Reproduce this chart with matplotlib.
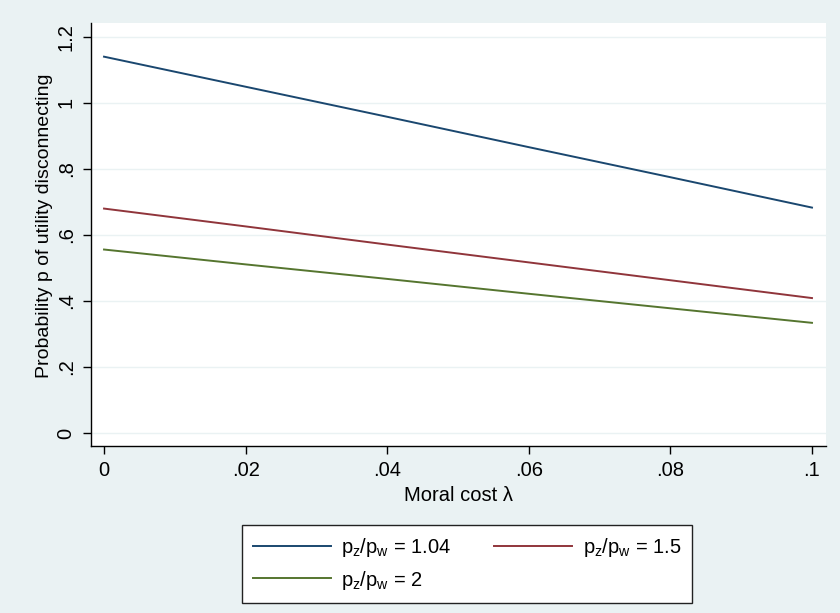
import matplotlib
matplotlib.use("Agg")
import matplotlib.pyplot as plt

plt.rcParams['font.family'] = ['Liberation Sans', 'DejaVu Sans']
plt.rcParams['mathtext.fontset'] = 'custom'
plt.rcParams['mathtext.rm'] = 'Liberation Sans'
plt.rcParams['mathtext.it'] = 'Liberation Sans'
plt.rcParams['mathtext.default'] = 'regular'

lam = [0.0, 0.02, 0.04, 0.06, 0.08, 0.1]
p_104 = [1.140, 1.049, 0.958, 0.866, 0.775, 0.683]
p_15 = [0.680, 0.626, 0.571, 0.517, 0.463, 0.409]
p_2 = [0.556, 0.511, 0.467, 0.422, 0.378, 0.334]
labels = [r'$p_z/p_w$ = 1.04', r'$p_z/p_w$ = 1.5', r'$p_z/p_w$ = 2']
colors = ['#1a476f', '#90353b', '#55752f']

xticks = [0, 0.02, 0.04, 0.06, 0.08, 0.1]
xticklabels = ['0', '.02', '.04', '.06', '.08', '.1']
yticks = [0, 0.2, 0.4, 0.6, 0.8, 1.0, 1.2]
yticklabels = ['0', '.2', '.4', '.6', '.8', '1', '1.2']

FS = 14.5
bg = '#eaf2f3'
fig = plt.figure(figsize=(8.4, 6.13), dpi=100, facecolor=bg)
ax = fig.add_axes([91/840, 1-446/613, (826-91)/840, (446-23)/613])
ax.set_facecolor('white')

lines = []
for ys, c, lab in zip([p_104, p_15, p_2], colors, labels):
    ln, = ax.plot(lam, ys, color=c, lw=1.4, label=lab)
    lines.append(ln)

ax.set_xlim(-0.00184, 0.10198)
ax.set_ylim(-0.039, 1.242)
ax.set_xticks(xticks)
ax.set_xticklabels(xticklabels)
ax.set_yticks(yticks)
ax.set_yticklabels(yticklabels, rotation=90, va='center')
ax.tick_params(labelsize=FS, length=6, width=1, color='black', pad=5)
ax.grid(axis='y', color=bg, lw=1)
ax.set_axisbelow(True)
for s in ['top', 'right']:
    ax.spines[s].set_visible(False)
for s in ['left', 'bottom']:
    ax.spines[s].set_linewidth(1)
ax.set_xlabel('Moral cost λ', fontsize=FS, labelpad=4)
ax.set_ylabel('Probability p of utility disconnecting', fontsize=14)
ax.yaxis.set_label_coords(-(91 - 53) / 735, (446 - 226) / 423)

order = [0, 2, 1]
leg = fig.legend([lines[i] for i in order], [labels[i] for i in order], ncol=2,
                 loc='center', bbox_to_anchor=(467/840, 1-564/613),
                 fontsize=FS, frameon=True, fancybox=False, framealpha=1,
                 edgecolor='#222222', handlelength=3.9, handletextpad=0.5,
                 columnspacing=2.1, labelspacing=0.45, borderpad=0.55)
leg.get_frame().set_linewidth(1)
leg.get_frame().set_facecolor('white')

fig.savefig('out.png', dpi=100, facecolor=bg)
